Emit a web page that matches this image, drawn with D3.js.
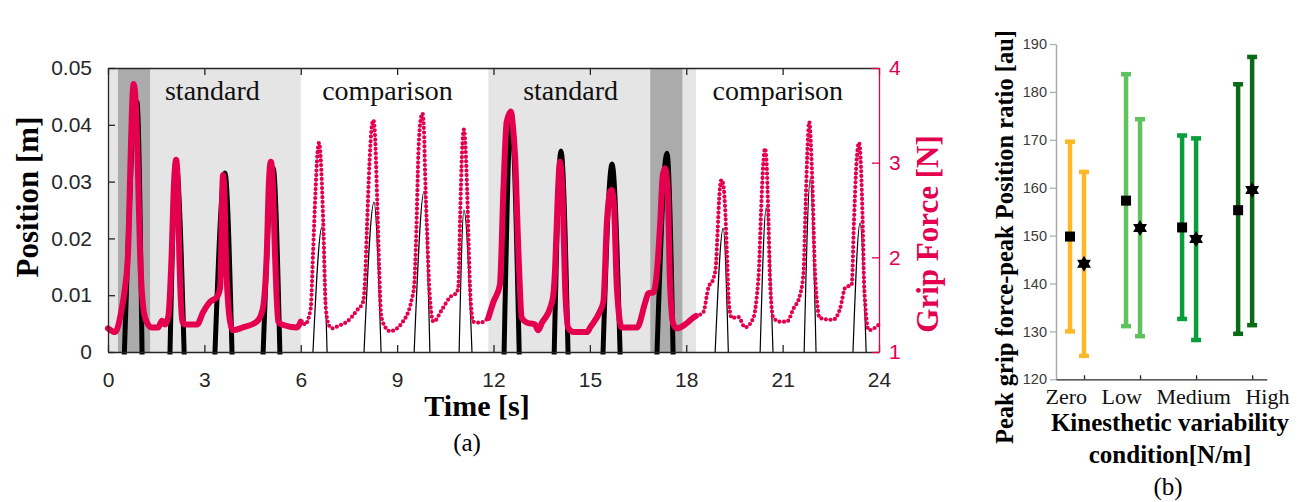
<!DOCTYPE html>
<html>
<head>
<meta charset="utf-8">
<script src="https://cdn.jsdelivr.net/npm/d3@7"></script>
<style>
  body { margin: 0; background: #fff; }
</style>
</head>
<body>
<svg id="chart" width="1302" height="502"></svg>
<script>
// ---------- panel (a) data ----------
const standardIntervals = [[0, 6.0], [11.84, 18.3]];
const comparisonIntervals = [[6.0, 11.84], [18.3, 24]];
const darkIntervals = [[0.31, 1.31], [16.88, 17.88]];
const phaseLabels = ["standard", "comparison", "standard", "comparison"];
const phaseLabelTime = [3.25, 8.7, 14.4, 20.85];
const timeTicks = [0, 3, 6, 9, 12, 15, 18, 21, 24];
const posTicks = [0, 0.01, 0.02, 0.03, 0.04, 0.05];
const gripTicks = [1, 2, 3, 4];

// position peaks [s] / [m]
const posRiseTime  = [0.51, 1.93, 3.33, 4.83, 6.38, 7.97, 9.53, 10.93, 12.33, 13.89, 15.41, 17.09, 18.90, 20.30, 21.67, 23.19];
const posPeakTime  = [0.90, 2.12, 3.64, 5.14, 6.66, 8.28, 9.84, 11.08, 12.55, 14.10, 15.69, 17.40, 19.15, 20.49, 21.86, 23.41];
const posPeakValue = [0.044, 0.033, 0.0315, 0.0324, 0.022, 0.0264, 0.0283, 0.025, 0.042, 0.0354, 0.0331, 0.035, 0.0218, 0.0254, 0.0305, 0.0227];
const posFallTime  = [1.06, 2.37, 3.86, 5.35, 6.82, 8.50, 10.02, 11.33, 12.80, 14.32, 15.94, 17.59, 19.31, 20.70, 22.04, 23.60];

// grip force trace [s, N]
const grip = [
  [0.00,1.25],[0.22,1.21],[0.43,1.46],[0.53,1.68],[0.62,2.02],[0.70,3.0],[0.75,3.6],[0.80,3.83],[0.86,3.65],[0.92,3.08],[1.00,2.02],[1.10,1.46],[1.20,1.32],[1.36,1.26],
  [1.56,1.26],[1.68,1.33],[1.78,1.29],[1.88,1.38],[1.98,2.02],[2.05,2.75],[2.12,3.03],[2.17,2.8],[2.22,2.02],[2.32,1.32],[2.40,1.29],
  [2.77,1.29],[2.96,1.42],[3.18,1.53],[3.39,1.58],[3.49,1.68],[3.52,2.02],[3.55,2.6],[3.58,2.87],[3.62,2.7],[3.67,2.02],[3.80,1.32],[3.89,1.23],
  [4.20,1.26],[4.63,1.32],[4.75,1.38],[4.84,1.5],[4.94,2.02],[5.01,2.8],[5.07,3.01],[5.13,2.8],[5.20,2.02],[5.30,1.32],[5.41,1.29],[5.88,1.26],[6.00,1.32],
  [6.06,1.32],[6.13,1.29],[6.31,1.46],[6.38,2.02],[6.46,2.70],[6.52,3.10],[6.57,3.21],[6.62,3.05],[6.70,2.37],[6.78,1.46],[6.88,1.28],[6.97,1.25],
  [7.20,1.28],[7.44,1.32],[7.75,1.44],[7.94,1.53],[8.00,1.75],[8.06,2.3],[8.14,3.0],[8.21,3.38],[8.26,3.45],[8.31,3.3],[8.38,2.6],[8.44,1.9],[8.50,1.4],[8.60,1.28],[8.78,1.22],
  [9.18,1.32],[9.45,1.55],[9.53,1.7],[9.60,2.3],[9.66,3.08],[9.73,3.45],[9.79,3.52],[9.84,3.3],[9.87,2.9],[9.94,2.2],[10.00,1.68],[10.13,1.32],
  [10.40,1.45],[10.65,1.58],[10.86,1.63],[10.91,1.70],[10.96,2.4],[11.02,3.1],[11.08,3.35],[11.13,3.15],[11.18,2.7],[11.23,2.1],[11.28,1.6],[11.37,1.32],[11.60,1.31],[11.84,1.36],
  [12.00,1.53],[12.20,1.71],[12.31,2.73],[12.41,3.43],[12.54,3.54],[12.60,3.40],[12.67,3.08],[12.78,2.02],[12.88,1.36],[13.04,1.31],[13.29,1.29],[13.39,1.23],[13.51,1.31],
  [13.76,1.46],[13.86,1.60],[13.92,1.90],[13.99,2.55],[14.07,3.01],[14.16,2.55],[14.23,1.68],[14.33,1.25],[14.50,1.21],[14.91,1.21],[15.01,1.26],
  [15.30,1.42],[15.42,1.53],[15.53,2.37],[15.63,2.69],[15.68,2.71],[15.75,2.55],[15.84,1.68],[15.99,1.26],[16.47,1.26],
  [16.72,1.52],[16.82,1.62],[16.98,1.63],[17.10,1.9],[17.19,2.37],[17.27,2.87],[17.34,2.94],[17.42,2.73],[17.50,1.68],[17.60,1.29],[17.71,1.25],[18.00,1.30],[18.21,1.36],[18.30,1.38],
  [18.53,1.42],[18.69,1.68],[18.85,1.78],[18.92,1.9],[18.98,2.3],[19.04,2.7],[19.10,2.82],[19.16,2.75],[19.22,2.45],[19.28,1.9],[19.33,1.5],[19.42,1.36],
  [19.62,1.37],[19.83,1.26],[20.09,1.36],[20.20,1.6],[20.26,1.85],[20.33,2.5],[20.40,3.0],[20.45,3.15],[20.50,3.0],[20.55,2.5],[20.61,1.75],[20.71,1.36],
  [20.92,1.32],[21.13,1.32],[21.34,1.46],[21.54,1.60],[21.65,1.84],[21.72,2.6],[21.78,3.2],[21.83,3.43],[21.88,3.2],[21.93,2.73],[22.00,1.9],[22.08,1.5],[22.15,1.36],
  [22.57,1.34],[22.79,1.46],[22.95,1.68],[23.15,1.71],[23.22,2.37],[23.30,3.0],[23.38,3.21],[23.44,2.95],[23.49,2.4],[23.54,1.68],[23.68,1.23],[24.00,1.29]
];

// ---------- panel (b) data ----------
const conditions = ["Zero", "Low", "Medium", "High"];
const condColors = ["#fcb925", "#5fc25e", "#0a9d3b", "#0a6a16"];
const squareMean  = [149.8, 157.3, 151.7, 155.3];
const squareUpper = [169.6, 183.7, 170.9, 181.6];
const squareLower = [130.0, 131.1, 132.6, 129.5];
const starMean  = [144.1, 151.6, 149.3, 159.5];
const starUpper = [163.3, 174.3, 170.3, 187.3];
const starLower = [124.9, 129.0, 128.2, 131.3];
const ratioTicks = [120, 130, 140, 150, 160, 170, 180, 190];

const serif = "'Liberation Serif', 'Times New Roman', serif";
const sans = "'Liberation Sans', Arial, Helvetica, sans-serif";
const crimson = "#e4004f";

const svg = d3.select("#chart");

// ================= panel (a) =================
const xA = d3.scaleLinear().domain([0, 24]).range([108, 879]);
const yPos = d3.scaleLinear().domain([0, 0.05]).range([352, 68]);
const yGrip = d3.scaleLinear().domain([1, 4]).range([352, 68]);

const gA = svg.append("g");

gA.selectAll("rect.std").data(standardIntervals).join("rect")
  .attr("x", d => xA(d[0])).attr("width", d => xA(d[1]) - xA(d[0]))
  .attr("y", yPos(0.05)).attr("height", yPos(0) - yPos(0.05))
  .attr("fill", "#e5e5e5");
gA.selectAll("rect.dark").data(darkIntervals).join("rect")
  .attr("x", d => xA(d[0])).attr("width", d => xA(d[1]) - xA(d[0]))
  .attr("y", yPos(0.05)).attr("height", yPos(0) - yPos(0.05))
  .attr("fill", "#ababab");

gA.selectAll("text.phase").data(phaseLabels).join("text")
  .attr("x", (d, i) => xA(phaseLabelTime[i])).attr("y", 100)
  .attr("text-anchor", "middle")
  .style("font-family", serif).style("font-size", "28px").attr("fill", "#111")
  .text(d => d);

const inStandard = t => standardIntervals.some(([a, b]) => t >= a && t <= b);

// position humps
const posLine = d3.line().x(d => xA(d[0])).y(d => yPos(d[1])).curve(d3.curveMonotoneX);
posPeakTime.forEach((tp, i) => {
  const thick = inStandard(tp);
  gA.append("path")
    .attr("d", posLine([[posRiseTime[i], 0], [tp, posPeakValue[i]], [posFallTime[i], 0]]))
    .attr("fill", "none").attr("stroke", "#000")
    .attr("stroke-width", thick ? 5 : 1.2)
    .attr("stroke-linecap", "square");
});

// grip force
const gripLine = d3.line().x(d => xA(d[0])).y(d => yGrip(d[1])).curve(d3.curveMonotoneX);
standardIntervals.forEach(([a, b]) => {
  const pts = grip.filter(d => d[0] >= a && d[0] <= b);
  gA.append("path").attr("d", gripLine(pts))
    .attr("fill", "none").attr("stroke", crimson).attr("stroke-width", 6)
    .attr("stroke-linejoin", "round").attr("stroke-linecap", "round");
});
comparisonIntervals.forEach(([a, b]) => {
  const pts = grip.filter(d => d[0] >= a && d[0] <= b);
  gA.append("path").attr("d", gripLine(pts))
    .attr("fill", "none").attr("stroke", "#f3a3bd").attr("stroke-width", 1);
  gA.append("path").attr("d", gripLine(pts))
    .attr("fill", "none").attr("stroke", crimson).attr("stroke-width", 4.2)
    .attr("stroke-linecap", "round").attr("stroke-dasharray", "0 4.6");
});

// axes
const axColor = "#262626";
function styleAxis(g, color, fontSize) {
  g.select(".domain").attr("stroke", color).attr("stroke-width", 1.3);
  g.selectAll(".tick line").attr("stroke", color).attr("stroke-width", 1.3);
  g.selectAll(".tick text").attr("fill", color)
    .style("font-family", sans).style("font-size", fontSize);
}
gA.append("g").attr("transform", `translate(0,${yPos(0)})`)
  .call(d3.axisBottom(xA).tickValues(timeTicks).tickSize(-7).tickSizeOuter(0).tickPadding(20))
  .call(g => styleAxis(g, axColor, "21px"));
gA.append("g").attr("transform", `translate(0,${yPos(0.05)})`)
  .call(d3.axisTop(xA).tickValues(timeTicks).tickSize(-7).tickSizeOuter(0).tickFormat(""))
  .call(g => styleAxis(g, axColor, "21px"));
gA.append("g").attr("transform", `translate(${xA(0)},0)`)
  .call(d3.axisLeft(yPos).tickValues(posTicks).tickSize(-7).tickSizeOuter(0).tickPadding(16)
    .tickFormat(d => d === 0 ? "0" : d3.format(".2f")(d)))
  .call(g => styleAxis(g, axColor, "21px"));
gA.append("g").attr("transform", `translate(${xA(24)},0)`)
  .call(d3.axisRight(yGrip).tickValues(gripTicks).tickSize(-7).tickSizeOuter(0).tickPadding(10)
    .tickFormat(d3.format("d")))
  .call(g => styleAxis(g, crimson, "21px"));

gA.append("text").attr("transform", "translate(27,197) rotate(-90)")
  .attr("text-anchor", "middle").attr("dy", "0.35em")
  .style("font-family", serif).style("font-weight", "bold").style("font-size", "31px")
  .attr("fill", "#000").text("Position [m]");
gA.append("text").attr("transform", "translate(927,234) rotate(-90)")
  .attr("text-anchor", "middle").attr("dy", "0.35em")
  .style("font-family", serif).style("font-weight", "bold").style("font-size", "31px")
  .attr("fill", crimson).text("Grip Force [N]");
gA.append("text").attr("x", 477).attr("y", 416).attr("text-anchor", "middle")
  .style("font-family", serif).style("font-weight", "bold").style("font-size", "30px")
  .text("Time [s]");
gA.append("text").attr("x", 467).attr("y", 451).attr("text-anchor", "middle")
  .style("font-family", serif).style("font-size", "25px")
  .text("(a)");

// ================= panel (b) =================
const xB = d3.scaleLinear().domain([0.5, 4.26]).range([1056, 1266.7]);
const yB = d3.scaleLinear().domain([120, 190]).range([379.3, 44]);
const gB = svg.append("g");

gB.append("g").attr("transform", `translate(${xB(0.5)},0)`)
  .call(d3.axisLeft(yB).tickValues(ratioTicks).tickSize(6).tickSizeOuter(0).tickPadding(3))
  .call(g => {
    g.select(".domain").attr("stroke", "#aaaaaa").attr("stroke-width", 1.5);
    g.selectAll(".tick line").attr("stroke", "#aaaaaa").attr("stroke-width", 1.2);
    g.selectAll(".tick text").attr("fill", "#3a3a3a").style("font-family", sans).style("font-size", "14.5px");
  });
gB.append("g").attr("transform", `translate(0,${yB(120)})`)
  .call(d3.axisBottom(xB).tickValues([1, 2, 3, 4]).tickSize(-4).tickSizeOuter(0).tickFormat(""))
  .call(g => {
    g.select(".domain").attr("stroke", "#262626").attr("stroke-width", 1.3);
    g.selectAll(".tick line").attr("stroke", "#262626").attr("stroke-width", 1.3);
  });

function hexagram(R) {
  const r = R / Math.sqrt(3);
  const pts = d3.range(12).map(k => {
    const a = -Math.PI / 2 + k * Math.PI / 6;
    const rad = k % 2 === 0 ? R : r;
    return [rad * Math.cos(a), rad * Math.sin(a)];
  });
  return "M" + pts.join("L") + "Z";
}

const bars = [];
conditions.forEach((c, i) => {
  bars.push({ x: i + 1 - 0.25, mean: squareMean[i], lo: squareLower[i], hi: squareUpper[i], color: condColors[i], marker: "square" });
  bars.push({ x: i + 1, mean: starMean[i], lo: starLower[i], hi: starUpper[i], color: condColors[i], marker: "star" });
});

const eb = gB.selectAll("g.bar").data(bars).join("g").attr("class", "bar");
eb.append("line")
  .attr("x1", d => xB(d.x)).attr("x2", d => xB(d.x))
  .attr("y1", d => yB(d.lo)).attr("y2", d => yB(d.hi))
  .attr("stroke", d => d.color).attr("stroke-width", 4.5);
eb.selectAll("line.cap").data(d => [[d, d.lo], [d, d.hi]]).join("line")
  .attr("x1", d => xB(d[0].x) - 5).attr("x2", d => xB(d[0].x) + 5)
  .attr("y1", d => yB(d[1])).attr("y2", d => yB(d[1]))
  .attr("stroke", d => d[0].color).attr("stroke-width", 4.5);
eb.filter(d => d.marker === "square").append("rect")
  .attr("x", d => xB(d.x) - 5).attr("y", d => yB(d.mean) - 5)
  .attr("width", 10).attr("height", 10).attr("fill", "#000");
eb.filter(d => d.marker === "star").append("path")
  .attr("transform", d => `translate(${xB(d.x)},${yB(d.mean)})`)
  .attr("d", hexagram(8)).attr("fill", "#000");

gB.append("text").attr("x", 1167.5).attr("y", 404).attr("text-anchor", "middle")
  .style("font-family", serif).style("font-size", "22px").style("word-spacing", "9px")
  .attr("fill", "#111").text(conditions.join(" "));
gB.append("text").attr("x", 1170).attr("y", 431).attr("text-anchor", "middle")
  .style("font-family", serif).style("font-weight", "bold").style("font-size", "25px")
  .text("Kinesthetic variability");
gB.append("text").attr("x", 1170).attr("y", 463).attr("text-anchor", "middle")
  .style("font-family", serif).style("font-weight", "bold").style("font-size", "25px")
  .text("condition[N/m]");
gB.append("text").attr("x", 1168).attr("y", 495).attr("text-anchor", "middle")
  .style("font-family", serif).style("font-size", "25px")
  .text("(b)");
gB.append("text").attr("transform", "translate(1004,237) rotate(-90)")
  .attr("text-anchor", "middle").attr("dy", "0.35em")
  .style("font-family", serif).style("font-weight", "bold").style("font-size", "24.5px")
  .text("Peak grip force-peak Position ratio [au]");
</script>
</body>
</html>
